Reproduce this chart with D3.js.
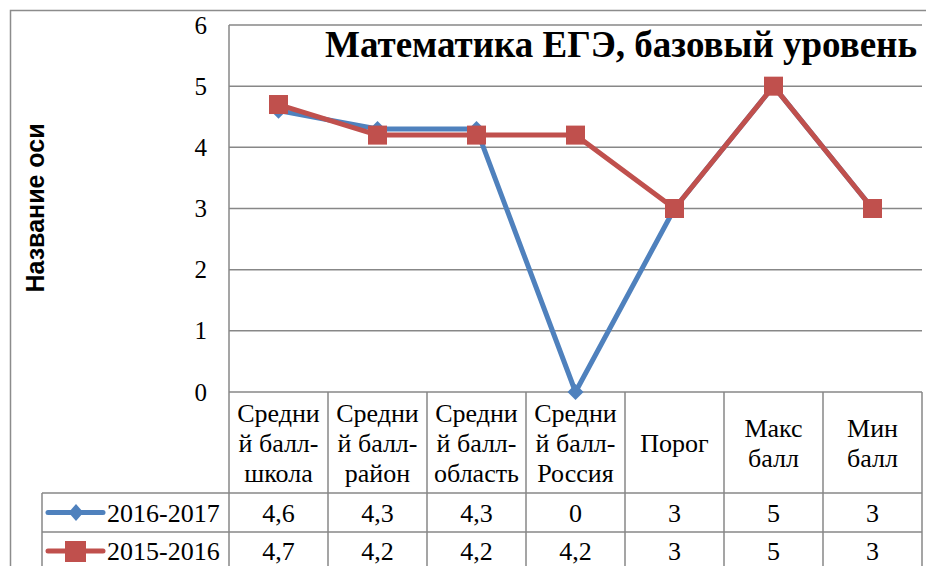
<!DOCTYPE html>
<html><head><meta charset="utf-8">
<script src="https://cdn.jsdelivr.net/npm/d3@7/dist/d3.min.js"></script>
<style>body{margin:0;background:#fff}svg{display:block}</style>
</head><body><svg id="c" width="926" height="566"></svg>
<script>
const categories = ["Средний балл-школа","Средний балл-район","Средний балл-область","Средний балл-Россия","Порог","Макс балл","Мин балл"];
const categoryLines = [["Средни","й балл-","школа"],["Средни","й балл-","район"],["Средни","й балл-","область"],["Средни","й балл-","Россия"],["Порог"],["Макс","балл"],["Мин","балл"]];
const series2017 = [4.6,4.3,4.3,0,3,5,3];
const series2016 = [4.7,4.2,4.2,4.2,3,5,3];
const seriesNames = ["2016-2017","2015-2016"];
const yTicks = [0,1,2,3,4,5,6];
const title = "Математика ЕГЭ, базовый уровень";
const yTitle = "Название оси";

const svg = d3.select("#c");
const grid = "#878787";
const serif = "'Liberation Serif','Times New Roman',serif";
const sans = "'Liberation Sans',Arial,sans-serif";
const colors = ["#4F81BD","#C0504D"];

const x = d3.scaleBand().domain(categories).range([229,922]);
const y = d3.scaleLinear().domain([0,6]).range([392,25]);

function stext(parent, px, py, str, size, anchor, weight){
  return parent.append("text").attr("x",px).attr("y",py)
    .attr("text-anchor",anchor||"start").attr("font-family",serif)
    .attr("font-size",size).attr("font-weight",weight||"normal").text(str);
}

// outer chart border
svg.append("rect").attr("x",10.5).attr("y",10.5).attr("width",1000).attr("height",1000)
  .attr("fill","none").attr("stroke","#8c8c8c").attr("stroke-width",1.5);

// gridlines
svg.append("g").selectAll("line").data(yTicks).join("line")
  .attr("x1",229).attr("x2",922).attr("y1",d=>y(d)).attr("y2",d=>y(d))
  .attr("stroke",grid).attr("stroke-width",1.5);
svg.append("line").attr("x1",229).attr("x2",229).attr("y1",y(6)).attr("y2",y(0))
  .attr("stroke",grid).attr("stroke-width",1.5);

// y tick labels
svg.append("g").selectAll("text").data(yTicks).join("text")
  .attr("x",207).attr("y",d=>y(d)+8.5).attr("text-anchor","end")
  .attr("font-family",serif).attr("font-size",25).text(d=>d);

// title
stext(svg, 325, 57, title, 37, "start", "bold");

// y axis title
svg.append("text").attr("transform","translate(44,208) rotate(-90)").attr("text-anchor","middle")
  .attr("font-family",sans).attr("font-weight","bold").attr("font-size",25).text(yTitle);

// data table
const tTop = y(0), hBot = 493, r1Bot = 532, r2Bot = 571, legL = 42;
const tg = svg.append("g").attr("stroke",grid).attr("stroke-width",1.5);
categories.forEach((c)=>{
  tg.append("line").attr("x1",x(c)).attr("x2",x(c)).attr("y1",tTop).attr("y2",r2Bot);
});
tg.append("line").attr("x1",922).attr("x2",922).attr("y1",tTop).attr("y2",r2Bot);
tg.append("line").attr("x1",legL).attr("x2",legL).attr("y1",hBot).attr("y2",r2Bot);
[hBot,r1Bot,r2Bot].forEach(yy=>tg.append("line").attr("x1",legL).attr("x2",922).attr("y1",yy).attr("y2",yy));

// header labels
categories.forEach((c,i)=>{
  const lines = categoryLines[i];
  const lh = 30;
  const mid = (tTop+hBot)/2;
  const start = mid - (lines.length-1)*lh/2;
  lines.forEach((ln,j)=>{
    stext(svg, x(c)+x.bandwidth()/2, start+j*lh+9.5, ln, 26, "middle");
  });
});

// data rows + legend
const rows = [series2017, series2016];
const rowMid = [512.5, 551];
rows.forEach((vals,r)=>{
  vals.forEach((d,i)=>{
    stext(svg, x(categories[i])+x.bandwidth()/2, rowMid[r]+9, String(d).replace(".",","), 26, "middle");
  });
  const lg = svg.append("g");
  lg.append("line").attr("x1",48).attr("x2",103).attr("y1",rowMid[r]).attr("y2",rowMid[r])
    .attr("stroke",colors[r]).attr("stroke-width",5).attr("stroke-linecap","round");
  if(r===0){
    lg.append("path").attr("d",d3.symbol(d3.symbolSquare,110)()).attr("transform",`translate(76,${rowMid[r]}) scale(1,1.15) rotate(45)`).attr("fill",colors[r]);
  } else {
    lg.append("rect").attr("x",65).attr("y",rowMid[r]-10).attr("width",21).attr("height",21).attr("fill",colors[r]);
  }
  stext(lg, 107, rowMid[r]+9, seriesNames[r], 26, "start");
});

// series lines
const line = d3.line().x((d,i)=>x(categories[i])+x.bandwidth()/2).y(d=>y(d));
[series2017, series2016].forEach((vals,r)=>{
  svg.append("path").datum(vals).attr("d",line).attr("fill","none")
    .attr("stroke",colors[r]).attr("stroke-width",5).attr("stroke-linejoin","round");
});
// markers
svg.append("g").selectAll("path").data(series2017).join("path")
  .attr("d",d3.symbol(d3.symbolSquare,128)())
  .attr("transform",(d,i)=>`translate(${x(categories[i])+x.bandwidth()/2},${y(d)}) rotate(45)`)
  .attr("fill",colors[0]);
svg.append("g").selectAll("rect").data(series2016).join("rect")
  .attr("x",(d,i)=>x(categories[i])+x.bandwidth()/2-9.5).attr("y",d=>y(d)-9.5)
  .attr("width",19).attr("height",19).attr("fill",colors[1]);
</script></body></html>
